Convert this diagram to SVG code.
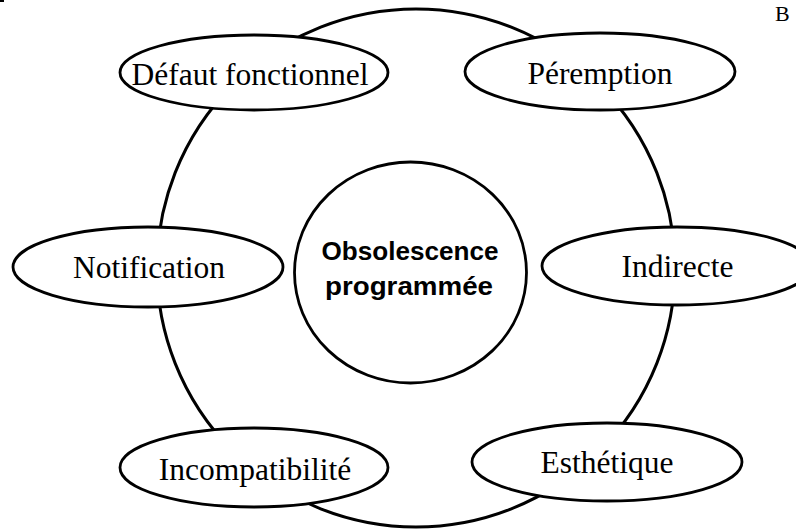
<svg xmlns="http://www.w3.org/2000/svg" width="796" height="529" viewBox="0 0 796 529">
<style>
.ring{fill:none;stroke:#000;stroke-width:3}
.node{fill:#fff;stroke:#000;stroke-width:2.8}
.lbl{font-family:"Liberation Serif","Times New Roman",serif;font-size:31.5px;fill:#000;text-anchor:middle}
.core{font-family:"Liberation Sans",Arial,sans-serif;font-size:26.5px;font-weight:bold;fill:#000;text-anchor:middle}
</style>
<rect width="796" height="529" fill="#fff"/>
<rect x="0" y="0" width="4" height="2" fill="#000"/>
<text x="775" y="20.5" font-family="Liberation Serif, serif" font-size="22">B</text>
<g id="connectors">
<circle class="ring" cx="416" cy="268" r="259"/>
</g>
<g id="center">
<ellipse class="node" cx="410.5" cy="272.5" rx="116" ry="110.5"/>
<text class="core" x="410" y="260" textLength="177" lengthAdjust="spacingAndGlyphs">Obsolescence</text>
<text class="core" x="409" y="295" textLength="168" lengthAdjust="spacingAndGlyphs">programmée</text>
</g>
<g id="defaut">
<ellipse class="node" cx="254" cy="72.5" rx="134" ry="37.5"/>
<text class="lbl" x="250" y="85">Défaut fonctionnel</text>
</g>
<g id="peremption">
<ellipse class="node" cx="600" cy="71.5" rx="135" ry="38.5"/>
<text class="lbl" x="600" y="84">Péremption</text>
</g>
<g id="notification">
<ellipse class="node" cx="148" cy="267" rx="135" ry="40"/>
<text class="lbl" x="149" y="278">Notification</text>
</g>
<g id="indirecte">
<ellipse class="node" cx="677" cy="266" rx="135" ry="39"/>
<text class="lbl" x="677.5" y="277">Indirecte</text>
</g>
<g id="incompatibilite">
<ellipse class="node" cx="254" cy="467.5" rx="134" ry="39.5"/>
<text class="lbl" x="255" y="480">Incompatibilité</text>
</g>
<g id="esthetique">
<ellipse class="node" cx="607" cy="462" rx="135" ry="39"/>
<text class="lbl" x="607" y="473">Esthétique</text>
</g>
</svg>
